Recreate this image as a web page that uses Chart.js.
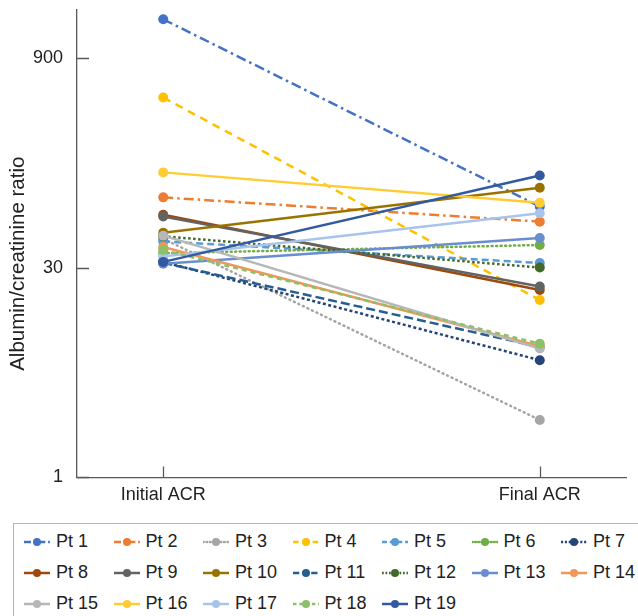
<!DOCTYPE html>
<html>
<head>
<meta charset="utf-8">
<script src="https://cdn.jsdelivr.net/npm/chart.js@4"></script>
<style>
  body { margin: 0; background: #fff; font-family: "Liberation Sans", Arial, sans-serif; }
  #wrap { position: relative; width: 638px; height: 616px; overflow: hidden; }
  #chartBox { position: absolute; left: 0; top: 0; width: 638px; height: 517px; }
  #legend {
    position: absolute; left: 13px; top: 523px; width: 640px; height: 110px;
    border: 1px solid #b4b4b4; box-sizing: border-box;
    display: grid; grid-template-columns: repeat(7, 89.5px); grid-auto-rows: 31px;
    padding: 2px 0 0 10px; color: #222; font-size: 18px;
  }
  .item { display: flex; align-items: center; white-space: nowrap; }
  .item svg { margin-right: 6px; }
</style>
</head>
<body>
<div id="wrap">
  <div id="chartBox"><canvas id="myChart"></canvas></div>
  <div id="legend"></div>
</div>
<script>
const categories = ['Initial ACR', 'Final ACR'];
const patients = ['Pt 1', 'Pt 2', 'Pt 3', 'Pt 4', 'Pt 5', 'Pt 6', 'Pt 7', 'Pt 8', 'Pt 9', 'Pt 10',
                  'Pt 11', 'Pt 12', 'Pt 13', 'Pt 14', 'Pt 15', 'Pt 16', 'Pt 17', 'Pt 18', 'Pt 19'];
const initialACR = [1690, 94, 48, 475, 46, 38, 33, 71, 69, 53, 32.5, 50, 32, 42, 50.5, 141, 36, 40, 33];
const finalACR   = [81, 63.4, 2.54, 17.8, 32.4, 43.4, 6.7, 20.9, 22.1, 110, 8.3, 30.1, 48.6, 8.4, 8.1, 86, 72.6, 8.75, 134];
const yTicks = [1, 30, 900];
const yTitle = 'Albumin/creatinine ratio';

const colors = ['#4472C4', '#ED7D31', '#A5A5A5', '#FFC000', '#5B9BD5', '#70AD47', '#264478',
                '#9E480E', '#636363', '#997300', '#255E91', '#43682B', '#698ED0', '#F1975A',
                '#B7B7B7', '#FFCD33', '#A9C4EA', '#8CC168', '#335AA1'];
const dashes = [[10, 4, 2.5, 4], [10, 4, 2.5, 4], [1, 4], [8, 6], [7, 4], [1, 3.5], [3, 2.5],
                [], [], [], [9, 4], [2.5, 2.5], [], [], [], [], [], [5, 4], []];
const caps = dashes.map((d, i) => (i === 2 || i === 5) ? 'round' : 'butt');

// inward tick marks + the y title (sits a bit below the plot centre in the original)
const axisExtras = {
    id: 'axisExtras',
    afterDraw(chart) {
        const ctx = chart.ctx;
        const x = chart.scales.x, y = chart.scales.y;
        ctx.save();
        ctx.strokeStyle = '#595959';
        ctx.lineWidth = 1.3;
        ctx.beginPath();
        yTicks.forEach(v => {
            const py = Math.round(y.getPixelForValue(v)) + 0.5;
            ctx.moveTo(x.left, py);
            ctx.lineTo(x.left + 12, py);
        });
        [0, 1].forEach(v => {
            const px = Math.round(x.getPixelForValue(v)) + 0.5;
            ctx.moveTo(px, y.bottom);
            ctx.lineTo(px, y.bottom - 11);
        });
        ctx.stroke();

        ctx.translate(18, (y.top + y.bottom) / 2 + 20);
        ctx.rotate(-Math.PI / 2);
        ctx.fillStyle = '#222';
        ctx.font = '20.5px "Liberation Sans"';
        ctx.textAlign = 'center';
        ctx.textBaseline = 'middle';
        ctx.fillText(yTitle, 0, 0);
        ctx.restore();
    }
};

const ctx = document.getElementById('myChart').getContext('2d');
const chart = new Chart(ctx, {
    type: 'line',
    data: {
        datasets: patients.map((p, i) => ({
            label: p,
            data: [{x: 0, y: initialACR[i]}, {x: 1, y: finalACR[i]}],
            borderColor: colors[i],
            backgroundColor: colors[i],
            pointBackgroundColor: colors[i],
            pointBorderColor: colors[i],
            borderWidth: 2.5,
            borderDash: dashes[i],
            borderCapStyle: caps[i],
            pointRadius: 5,
            pointBorderWidth: 0,
            order: patients.length - i
        }))
    },
    options: {
        responsive: true,
        maintainAspectRatio: false,
        animation: false,
        layout: { padding: { left: 4, right: 12, top: 10, bottom: 4 } },
        scales: {
            x: {
                type: 'linear',
                min: -0.229,
                max: 1.229,
                afterBuildTicks: scale => { scale.ticks = [{value: 0}, {value: 1}]; },
                ticks: {
                    callback: v => categories[v],
                    color: '#222',
                    font: { family: 'Liberation Sans', size: 18 },
                    padding: 7,
                    maxRotation: 0
                },
                grid: { display: false, drawTicks: false },
                border: { display: true, color: '#595959', width: 1.3 }
            },
            y: {
                type: 'logarithmic',
                min: 1,
                max: 1965,
                afterBuildTicks: scale => { scale.ticks = yTicks.map(v => ({value: v})); },
                afterFit: scale => { scale.width = 73; scale.paddingTop = 0; scale.paddingBottom = 0; },
                ticks: {
                    callback: v => String(v),
                    color: '#222',
                    font: { family: 'Liberation Sans', size: 18 },
                    padding: 14
                },
                grid: { display: false, drawTicks: false },
                border: { display: true, color: '#595959', width: 1.3 }
            }
        },
        plugins: {
            legend: { display: false },
            tooltip: { enabled: false }
        }
    },
    plugins: [axisExtras]
});

// legend laid out in a fixed grid like the original
const legendEl = document.getElementById('legend');
chart.data.datasets.forEach(ds => {
    const item = document.createElement('div');
    item.className = 'item';
    const dash = ds.borderDash.length ? ds.borderDash.map(d => d * 0.7).join(',') : 'none';
    item.innerHTML =
        '<svg width="26" height="12"><line x1="0" y1="6" x2="26" y2="6" stroke="' + ds.borderColor +
        '" stroke-width="2.5" stroke-linecap="' + ds.borderCapStyle + '" stroke-dasharray="' + dash + '"/>' +
        '<circle cx="13" cy="6" r="4" fill="' + ds.borderColor + '"/></svg><span>' + ds.label + '</span>';
    legendEl.appendChild(item);
});
</script>
</body>
</html>
